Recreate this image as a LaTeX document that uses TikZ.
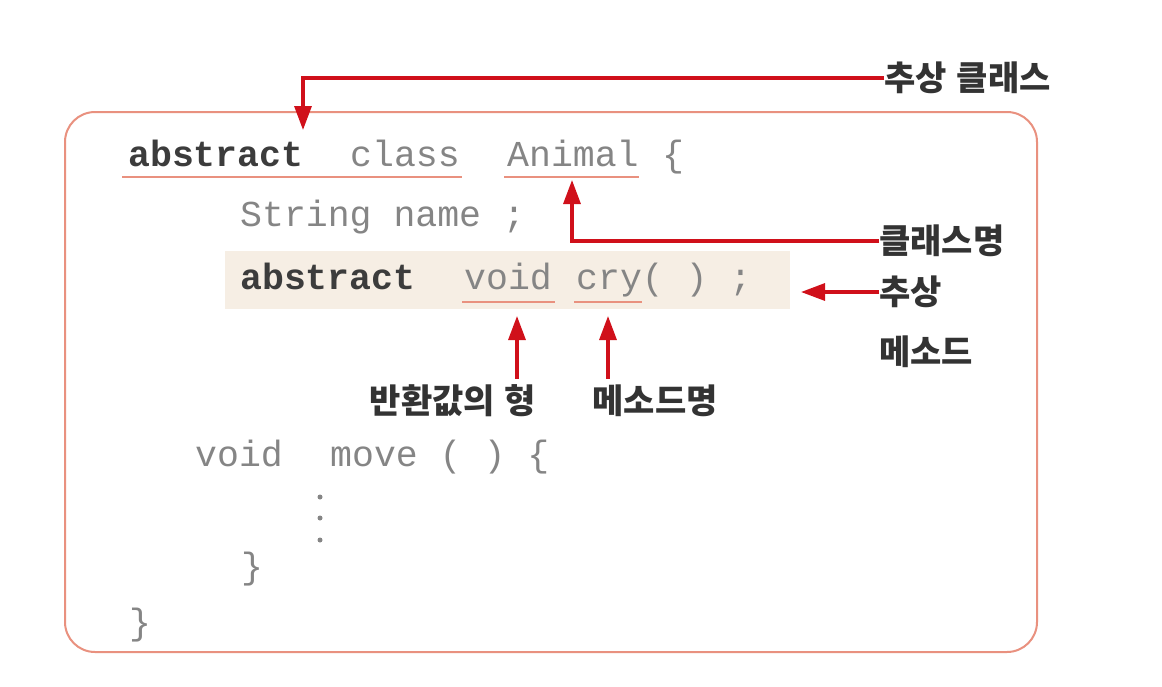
\documentclass[tikz,border=0pt]{standalone}
\usepackage{fontspec}
\setmonofont{Liberation Mono}
\newfontfamily\kr{Noto Sans CJK KR}
\usetikzlibrary{arrows.meta,calc}
\definecolor{arrred}{HTML}{D0101A}
\definecolor{salmon}{HTML}{E9917F}
\definecolor{beige}{HTML}{F6EEE4}
\definecolor{codegray}{HTML}{858585}
\definecolor{codedark}{HTML}{3C3C3C}
\definecolor{labeldark}{HTML}{333333}
\tikzset{
  code/.style={inner sep=0pt, anchor=base west, text=codegray, font=\ttfamily\fontsize{36.5}{40}\selectfont},
  kw/.style={code, text=codedark, font=\ttfamily\bfseries\fontsize{36.5}{40}\selectfont},
  lbl/.style={inner sep=0pt, anchor=west, text=labeldark, font=\kr\bfseries\fontsize{34}{38}\selectfont},
  uline/.style={draw=salmon, line width=2.2pt},
  arr/.style={draw=arrred, line width=3.2pt, -{Triangle[length=24pt,width=17pt]}},
  dotmark/.style={circle, fill=codegray, inner sep=0pt, minimum size=5pt}
}
\begin{document}
\begin{tikzpicture}[x=1pt,y=-1pt]
\useasboundingbox (0,0) rectangle (1162,686);
\fill[white] (0,0) rectangle (1162,686);
% frame
\draw[salmon, line width=2pt, rounded corners=30pt] (65,112) rectangle (1037,652);
% highlight band
\fill[beige] (225,251) rectangle (790,309);
% line 1
\node[kw] (abs1) at (128,166) {abstract};
\node[code] (cls) at (350,166) {class};
\node[code] (ani) at (507,166) {Animal};
\node[code] (lb1) at (662,166) {\{};
% line 2
\node[code] (str) at (240,226) {String name ;};
% line 3
\node[kw] (abs2) at (240,289) {abstract};
\node[code] (vd) at (464,289) {void};
\node[code] (cry) at (576,289) {cry( ) ;};
% line 4
\node[code] (vd2) at (195,466) {void};
\node[code] (mv) at (330,466) {move ( ) \{};
\node[dotmark] (d1) at (320,497) {};
\node[dotmark] (d2) at (320,518) {};
\node[dotmark] (d3) at (320,540) {};
\node[code] (rb1) at (241,578) {\}};
\node[code] (rb2) at (129,634) {\}};
% underlines
\draw[uline] ($(abs1.base west)+(-6,11)$) -- ($(cls.base east)+(2,11)$);
\draw[uline] ($(ani.base west)+(-3,11)$) -- ($(ani.base east)+(0,11)$);
\draw[uline] ($(vd.base west)+(-2,13)$) -- ($(vd.base east)+(3,13)$);
\draw[uline] ($(cry.base west)+(-2,13)$) -- ($(cry.base west)+(66,13)$);
% labels
\node[lbl] (lAC) at (884,78) {추상\hspace{10pt}클래스};
\node[lbl] (lCN) at (879,241) {클래스명};
\node[lbl] (lAM) at (879,292) {추상};
\node[lbl] (lAM2) at (879,352) {메소드};
\node[lbl, anchor=center] (lRT) at (453,401) {반환값의\hspace{10pt}형};
\node[lbl, anchor=center] (lMN) at (655,401) {메소드명};
% arrow tips
\coordinate (tAC) at (303,130);
\coordinate (tCN) at (572,180);
\coordinate (tAM) at (801,292);
\coordinate (tRT) at (517,316);
\coordinate (tMN) at (608,316);
% arrows
\draw[arr] (lAC.west) -| (tAC);
\draw[arr] (lCN.west) -| (tCN);
\draw[arr] (lAM.west) -- (tAM);
\draw[arr] (tRT |- lRT.north) ++(0,-6) -- (tRT);
\draw[arr] (tMN |- lMN.north) ++(0,-6) -- (tMN);
\end{tikzpicture}
\end{document}
